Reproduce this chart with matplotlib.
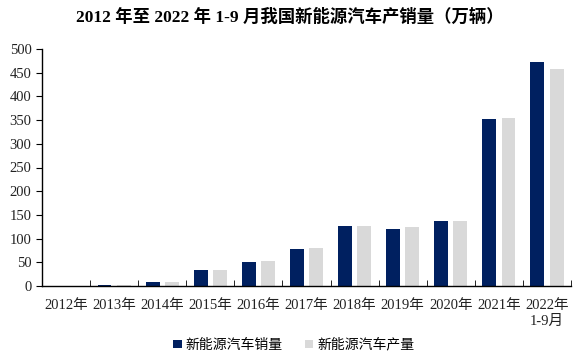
import matplotlib
matplotlib.use("Agg")
import matplotlib.pyplot as plt
import numpy as np

categories = ["2012年", "2013年", "2014年", "2015年", "2016年", "2017年",
              "2018年", "2019年", "2020年", "2021年", "2022年\n1-9月"]
sales = [0.8, 1.8, 7.5, 33.1, 50.7, 77.7, 125.6, 120.6, 136.7, 352.1, 472.0]
production = [0.8, 1.8, 7.9, 34.0, 51.7, 79.4, 127.0, 124.2, 136.6, 354.5, 457.0]
series_names = ["新能源汽车销量", "新能源汽车产量"]
title = "2012 年至 2022 年 1-9 月我国新能源汽车产销量（万辆）"

fam = ["Liberation Serif", "Noto Sans CJK SC"]
plt.rcParams['font.family'] = fam

fig = plt.figure(figsize=(5.77, 3.59), dpi=100)
ax = fig.add_axes([42/577, 1-286/359, 529/577, 237/359])

x = np.arange(len(categories))
w = 0.29
ax.bar(x - 0.2, sales, w, color="#002060", label=series_names[0])
ax.bar(x + 0.2, production, w, color="#D9D9D9", label=series_names[1])

ax.set_xlim(-0.5, len(categories) - 0.5)
ax.set_ylim(0, 500)
ax.set_yticks(np.arange(0, 501, 50))
ax.set_xticks(x)
ax.set_xticklabels(categories, fontsize=10.5, family=fam, color="#222222",
                   linespacing=1.3)
ax.tick_params(axis='x', which='major', length=0, pad=9.5)
ax.set_xticks(np.arange(-0.5, len(categories), 1), minor=True)
ax.tick_params(axis='x', which='minor', length=4, direction='in', color='black')
ax.tick_params(axis='y', labelsize=10.5, length=4, direction='out', colors='black')
for lab in ax.get_yticklabels():
    lab.set_color("#222222")
for s in ["top", "right"]:
    ax.spines[s].set_visible(False)
for s in ["left", "bottom"]:
    ax.spines[s].set_color("black")
    ax.spines[s].set_linewidth(1.0)

fig.text(290/577, 1-17/359, title, ha="center", va="center", fontsize=12.5,
         fontweight="bold", family=fam)

leg = fig.legend(loc="center", bbox_to_anchor=(294/577, 1-345/359), ncol=2,
                 frameon=False, handlelength=0.6, handleheight=0.6,
                 columnspacing=1.6, handletextpad=0.3, prop={'family': fam, 'size': 10})

fig.savefig("out.png", dpi=100)
